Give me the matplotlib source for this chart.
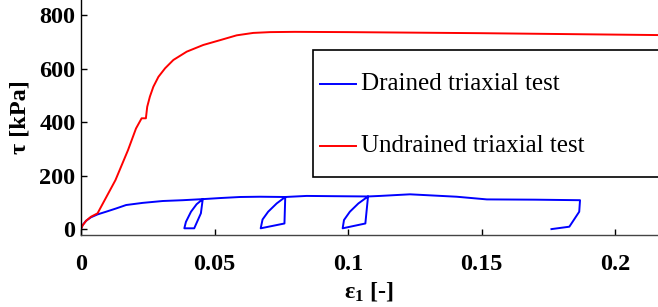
import matplotlib
matplotlib.use("Agg")
import numpy as np
import matplotlib.pyplot as plt
from matplotlib.legend_handler import HandlerLine2D
from matplotlib.lines import Line2D

plt.rcParams['font.family'] = ['Liberation Serif', 'DejaVu Serif']
plt.rcParams['mathtext.fontset'] = 'custom'
plt.rcParams['mathtext.rm'] = 'Liberation Serif'
plt.rcParams['mathtext.bf'] = 'Liberation Serif:bold'
plt.rcParams['mathtext.it'] = 'Liberation Serif:italic'

# Drained triaxial test (axial strain, shear stress kPa)
drained_eps = [0, 0.0006, 0.0019, 0.0037, 0.0062, 0.0094, 0.0131, 0.0169, 0.0231, 0.0306, 0.0381, 0.0456,
               0.0449, 0.0424, 0.0387, 0.0393, 0.0412, 0.0433, 0.0456,
               0.052, 0.0596, 0.067, 0.0765,
               0.0762, 0.0673, 0.068, 0.0701, 0.0733, 0.0765,
               0.0845, 0.095, 0.1075,
               0.1065, 0.098, 0.0985, 0.1007, 0.1039, 0.1075,
               0.112, 0.1232, 0.1407, 0.152, 0.17, 0.1869,
               0.1866, 0.1829, 0.1762]
drained_tau = [0, 15, 31, 44, 55, 65, 77, 90, 98, 105, 108, 112,
               59, 3, 3, 27, 65, 93, 112,
               116, 120, 121, 120,
               21, 3, 36, 65, 96, 120,
               124, 123, 122,
               21, 3, 34, 65, 96, 122,
               124, 130, 121, 111, 110, 108,
               65, 9, 0]

# Undrained triaxial test
undrained_eps = [0, 0.0006, 0.0019, 0.0037, 0.0062, 0.0129, 0.0176, 0.0206, 0.0227, 0.0243,
                 0.0248, 0.0258, 0.0271, 0.029, 0.0315, 0.0346, 0.0396, 0.0458, 0.0521,
                 0.0583, 0.0645, 0.0708, 0.08, 0.1, 0.15, 0.216]
undrained_tau = [0, 14, 31, 46, 59, 183, 295, 376, 414, 414,
                 457, 495, 532, 569, 601, 632, 663, 688, 706,
                 724, 733, 736, 737, 736, 732, 725]

xticks = [0, 0.05, 0.1, 0.15, 0.2]
xticklabels = ['0', '0.05', '0.1', '0.15', '0.2']
yticks = [0, 200, 400, 600, 800]


class ShiftedLineHandler(HandlerLine2D):
    """Legend line handler that lowers the sample line to the text centre."""
    def __init__(self, shift_pt, **kw):
        super().__init__(**kw)
        self.shift_pt = shift_pt

    def create_artists(self, *args, **kw):
        arts = super().create_artists(*args, **kw)
        for a in arts:
            a.set_ydata(np.asarray(a.get_ydata()) - self.shift_pt)
        return arts


W, H = 658, 307
fig = plt.figure(figsize=(W / 100, H / 100), dpi=100)
ax = fig.add_axes([81 / W, (H - 235) / H, (W - 81) / W, 235 / H])

ax.plot(drained_eps, drained_tau, color='#0000ff', lw=1.4, label='Drained triaxial test')
ax.plot(undrained_eps, undrained_tau, color='#ff0000', lw=1.4, label='Undrained triaxial test')

ax.set_xlim(0, 577 / 2670)
ax.set_ylim(-22, 856)
ax.set_xticks(xticks)
ax.set_xticklabels(xticklabels)
ax.set_yticks(yticks)

for s in ['top', 'right']:
    ax.spines[s].set_visible(False)
ax.spines['left'].set_color('black')
ax.spines['bottom'].set_color('#444444')
ax.spines['left'].set_linewidth(1.0)
ax.spines['bottom'].set_linewidth(1.0)

ax.tick_params(direction='in', length=4, width=1.0, labelsize=17.5)
ax.tick_params(axis='x', pad=14)
ax.tick_params(axis='y', pad=4)
for lab in ax.get_xticklabels() + ax.get_yticklabels():
    lab.set_fontweight('bold')

ax.set_ylabel('τ [kPa]', fontsize=17.5, fontweight='bold', labelpad=6)
ax.set_xlabel(r'ε$_{\mathbf{1}}$ [-]', fontsize=17.5, fontweight='bold', labelpad=3)

# legend box in figure coordinates
x0, y0 = 312.7 / W, (H - 177.7) / H
leg = ax.legend(loc='upper left', bbox_to_anchor=(x0, y0, (W + 20 - 312.7) / W, (177.7 - 50) / H),
                bbox_transform=fig.transFigure, mode='expand', fontsize=18,
                borderpad=0.3, handlelength=1.44, handletextpad=0.21,
                handleheight=2.69, labelspacing=0.48, fancybox=False, framealpha=1,
                edgecolor='black', borderaxespad=0,
                handler_map={Line2D: ShiftedLineHandler(7.2)})
leg.get_frame().set_linewidth(1.2)

fig.savefig('out.png', dpi=100)
